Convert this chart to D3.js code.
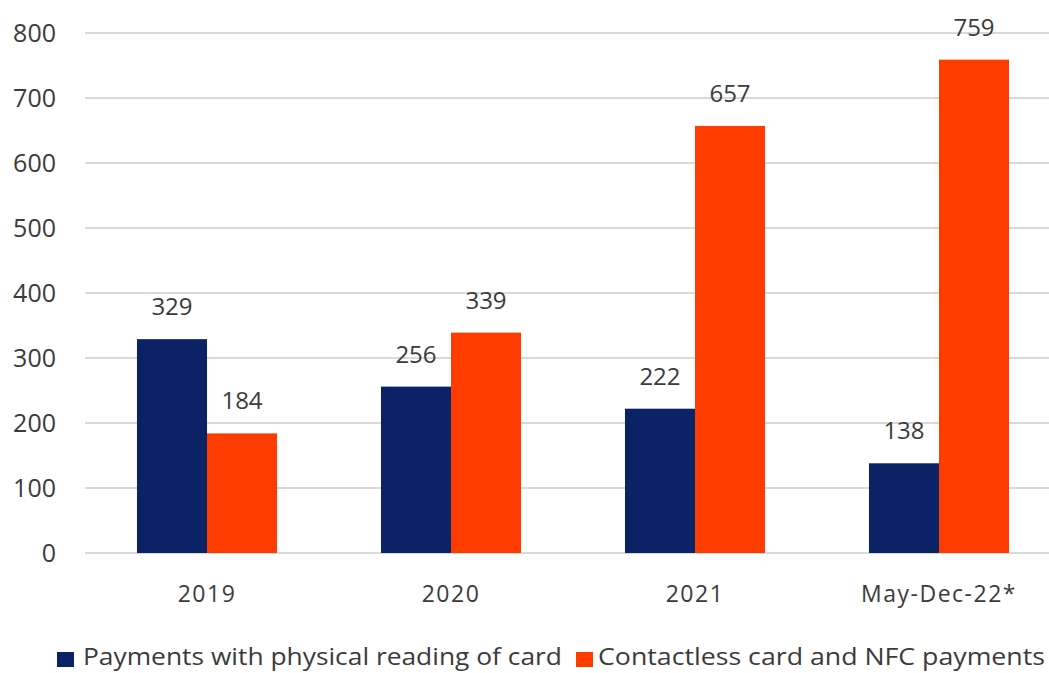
<!DOCTYPE html>
<html>
<head>
<meta charset="utf-8">
<script src="https://cdn.jsdelivr.net/npm/d3@7"></script>
<style>
  html, body { margin: 0; padding: 0; background: #ffffff; }
  svg { display: block; }
  text { font-family: "Open Sans", "Noto Sans", sans-serif; fill: #3b3b3b; }
</style>
</head>
<body>
<svg id="chart" width="1049" height="673"></svg>
<script>
// Card payment volumes by type
const categories = ["2019", "2020", "2021", "May-Dec-22*"];
const seriesNames = ["Payments with physical reading of card", "Contactless card and NFC payments"];
const physicalValues = [329, 256, 222, 138];
const contactlessValues = [184, 339, 657, 759];
const yTicks = [0, 100, 200, 300, 400, 500, 600, 700, 800];
const seriesColors = ["#0b2366", "#ff3c00"];

const svg = d3.select("#chart");
const W = 1049, H = 673;
const plot = { left: 85, right: 1061, top: 33, bottom: 553 };

const x = d3.scaleBand()
  .domain(categories)
  .range([plot.left, plot.right])
  .paddingInner(0.426)
  .paddingOuter(0.213);

const x1 = d3.scaleBand()
  .domain([0, 1])
  .range([0, x.bandwidth()]);

const y = d3.scaleLinear()
  .domain([0, 800])
  .range([plot.bottom, plot.top]);

// Horizontal gridlines
svg.append("g")
  .selectAll("line")
  .data(yTicks)
  .join("line")
  .attr("x1", plot.left)
  .attr("x2", W)
  .attr("y1", d => y(d))
  .attr("y2", d => y(d))
  .attr("stroke", "#d9d9d9")
  .attr("stroke-width", 2);

// Y axis labels
const yAxis = d3.axisLeft(y).tickValues(yTicks).tickSize(0).tickPadding(0);
const yG = svg.append("g")
  .attr("transform", `translate(56,0)`)
  .call(yAxis);
yG.select(".domain").remove();
yG.selectAll("text")
  .attr("font-size", 25)
  .attr("fill", "#3b3b3b")
  .style("font-family", "'Open Sans', sans-serif");

// Bars
const rows = categories.map((c, i) => ({ cat: c, vals: [physicalValues[i], contactlessValues[i]] }));
const groups = svg.append("g")
  .selectAll("g")
  .data(rows)
  .join("g")
  .attr("transform", d => `translate(${x(d.cat)},0)`);

groups.selectAll("rect")
  .data(d => d.vals.map((v, k) => ({ v, k })))
  .join("rect")
  .attr("x", d => x1(d.k))
  .attr("width", x1.bandwidth())
  .attr("y", d => y(d.v))
  .attr("height", d => y(0) - y(d.v))
  .attr("fill", d => seriesColors[d.k]);

// Value labels above bars
groups.selectAll("text.val")
  .data(d => d.vals.map((v, k) => ({ v, k })))
  .join("text")
  .attr("class", "val")
  .attr("x", d => x1(d.k) + x1.bandwidth() / 2)
  .attr("y", d => y(d.v) - 24)
  .attr("text-anchor", "middle")
  .attr("font-size", 24)
  .text(d => d.v);

// Category labels
const xAxis = d3.axisBottom(x).tickSize(0).tickPadding(0);
const xG = svg.append("g")
  .attr("transform", `translate(0,${plot.bottom})`)
  .call(xAxis);
xG.select(".domain").remove();
xG.selectAll("text")
  .attr("dy", null)
  .attr("y", 49)
  .attr("font-size", 23)
  .attr("letter-spacing", 1.5)
  .attr("fill", "#3b3b3b")
  .style("font-family", "'Open Sans', sans-serif");

// Legend
const legendItems = [
  { name: seriesNames[0], color: seriesColors[0], sx: 57, tx: 83, len: 479 },
  { name: seriesNames[1], color: seriesColors[1], sx: 576, tx: 598, len: 447 }
];
const lg = svg.append("g");
lg.selectAll("rect")
  .data(legendItems)
  .join("rect")
  .attr("x", d => d.sx)
  .attr("y", 652)
  .attr("width", 17)
  .attr("height", 15)
  .attr("fill", d => d.color);
lg.selectAll("text")
  .data(legendItems)
  .join("text")
  .attr("x", d => d.tx)
  .attr("y", 665)
  .attr("font-size", 24)
  .attr("textLength", d => d.len)
  .attr("lengthAdjust", "spacingAndGlyphs")
  .text(d => d.name);
</script>
</body>
</html>
